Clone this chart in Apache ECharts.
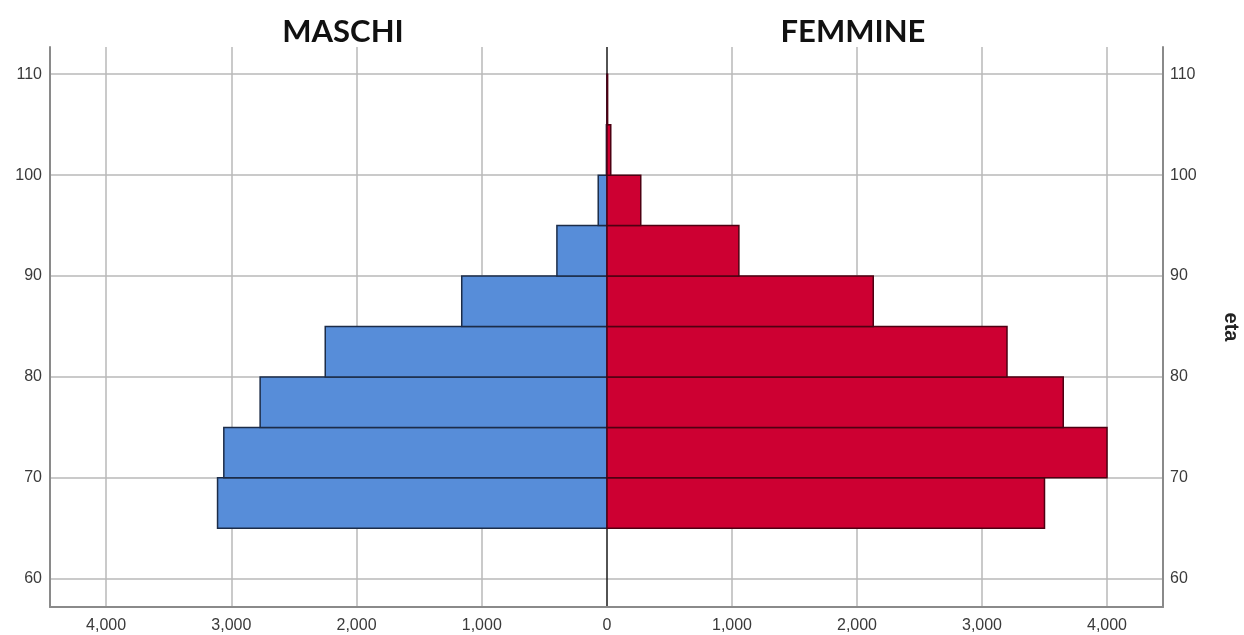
<!DOCTYPE html>
<html>
<head>
<meta charset="utf-8">
<script src="https://cdn.jsdelivr.net/npm/echarts@6/dist/echarts.min.js"></script>
<style>
  html, body { margin: 0; padding: 0; background: #fff; }
  #chart { width: 1244px; height: 635px; }
</style>
</head>
<body>
<div id="chart"></div>
<script>
// eta (start of each 5-year class)
const ageStart = [65, 70, 75, 80, 85, 90, 95, 100, 105];
const binWidth = 5;
// counts
const maschi = [3110, 3060, 2770, 2250, 1160, 400, 70, 5, 2];
const femmine = [3500, 4000, 3650, 3200, 2130, 1055, 270, 30, 5];

const blue = '#578dd9';
const blueBorder = '#1c2c48';
const red = '#cd0032';
const redBorder = '#4e0012';
const gridColor = '#b8b8b8';
const axisColor = '#8a8a8a';
const labelFont = 'Liberation Sans';

const xMax = 4448;
const yMin = 57.2;
const yMax = 112.7;

function fmt(v) {
    return Math.round(v).toLocaleString('en-US');
}

function renderBar(params, api) {
    let p0 = api.coord([0, api.value(1)]);
    let p1 = api.coord([api.value(0), api.value(1) + binWidth]);
    return {
        type: 'rect',
        shape: {
            x: Math.min(p0[0], p1[0]),
            y: p1[1],
            width: Math.abs(p1[0] - p0[0]),
            height: p0[1] - p1[1]
        },
        style: api.style()
    };
}

function xAxisOpt(idx, inverse) {
    return {
        gridIndex: idx,
        type: 'value',
        inverse: inverse,
        min: 0,
        max: xMax,
        interval: 1000,
        axisLine: {show: true, onZero: false, lineStyle: {color: axisColor, width: 2}},
        axisTick: {show: false},
        axisLabel: {
            color: '#3a3a3a',
            fontFamily: labelFont,
            fontSize: 16,
            margin: 11,
            showMaxLabel: false,
            showMinLabel: !inverse ? false : true,
            formatter: fmt
        },
        splitLine: {
            show: true,
            showMaxLine: false,
            showMinLine: inverse,
            lineStyle: {
                color: inverse ? ['#1a1a1a', gridColor, gridColor, gridColor, gridColor] : gridColor,
                width: 1.5
            }
        }
    };
}

function yAxisOpt(idx, pos) {
    return {
        gridIndex: idx,
        type: 'value',
        position: pos,
        min: yMin,
        max: yMax,
        splitNumber: 5,
        name: pos === 'right' ? 'eta' : '',
        nameLocation: 'middle',
        nameRotate: -90,
        nameGap: 58,
        nameTextStyle: {color: '#222', fontFamily: labelFont, fontSize: 20, fontWeight: 'bold'},
        axisLine: {show: true, onZero: false, lineStyle: {color: axisColor, width: 2}},
        axisTick: {show: false},
        axisLabel: {
            color: '#3a3a3a',
            fontFamily: labelFont,
            fontSize: 16,
            margin: pos === 'right' ? 7 : 8,
            showMinLabel: false,
            showMaxLabel: false
        },
        splitLine: {
            show: true,
            showMinLine: false,
            showMaxLine: false,
            lineStyle: {color: gridColor, width: 1.5}
        }
    };
}

let myChart = echarts.init(document.getElementById('chart'));
myChart.setOption({
    animation: false,
    backgroundColor: '#fff',
    title: [
        {
            text: 'MASCHI',
            left: 343,
            top: 16,
            padding: 0,
            textAlign: 'center',
            textStyle: {fontFamily: 'Lato', fontWeight: 'bold', fontSize: 31, color: '#111'}
        },
        {
            text: 'FEMMINE',
            left: 853,
            top: 16,
            padding: 0,
            textAlign: 'center',
            textStyle: {fontFamily: 'Lato', fontWeight: 'bold', fontSize: 31, color: '#111'}
        }
    ],
    grid: [
        {left: 50, top: 47, width: 557, height: 560},
        {left: 607, top: 47, width: 556, height: 560}
    ],
    xAxis: [xAxisOpt(0, true), xAxisOpt(1, false)],
    yAxis: [yAxisOpt(0, 'left'), yAxisOpt(1, 'right')],
    series: [
        {
            name: 'MASCHI',
            type: 'custom',
            xAxisIndex: 0,
            yAxisIndex: 0,
            renderItem: renderBar,
            itemStyle: {color: blue, borderColor: blueBorder, borderWidth: 1.5},
            data: ageStart.map((a, i) => [maschi[i], a])
        },
        {
            name: 'FEMMINE',
            type: 'custom',
            xAxisIndex: 1,
            yAxisIndex: 1,
            renderItem: renderBar,
            itemStyle: {color: red, borderColor: redBorder, borderWidth: 1.5},
            data: ageStart.map((a, i) => [femmine[i], a])
        }
    ]
});
</script>
</body>
</html>
